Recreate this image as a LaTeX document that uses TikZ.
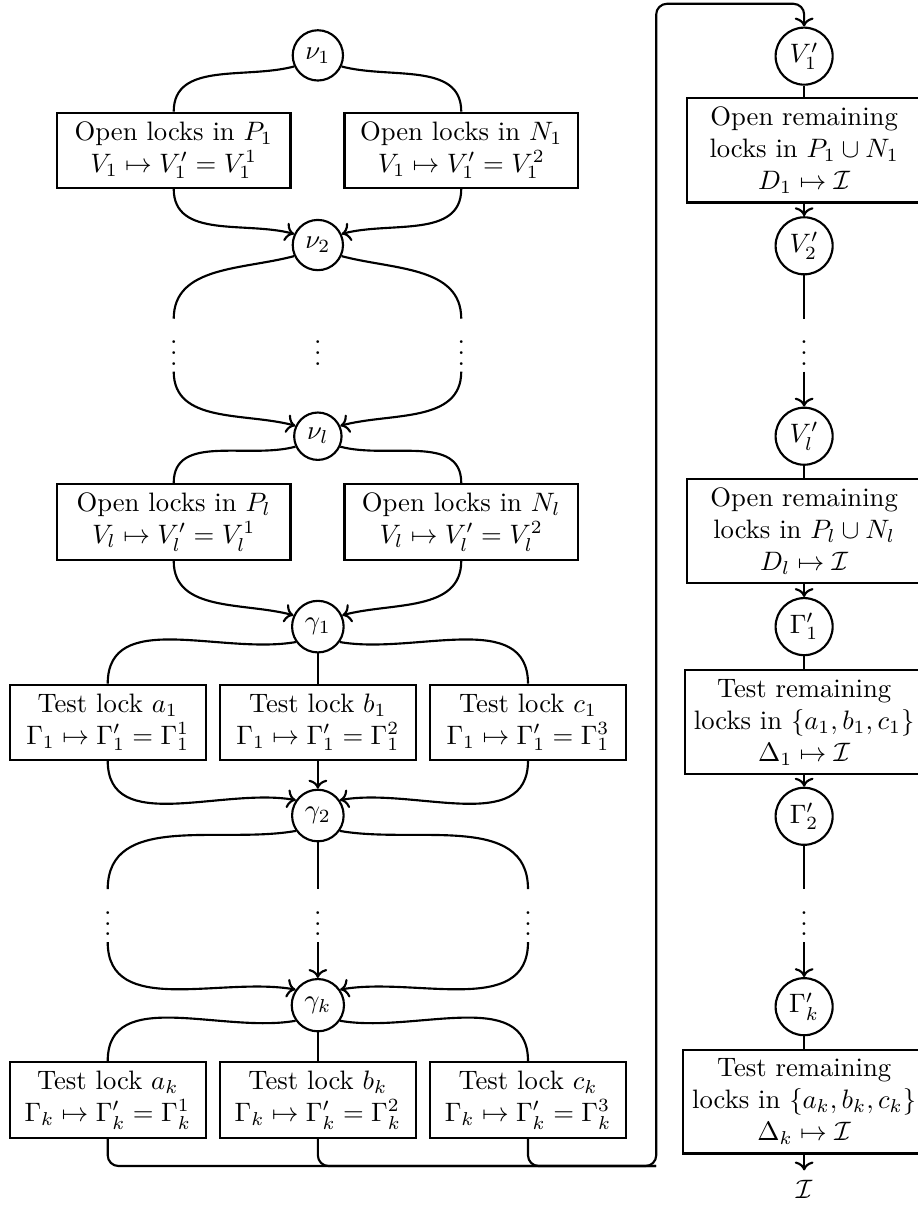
\documentclass[tikz,border=0pt]{standalone}
\usepackage{amsmath,amssymb}
\usetikzlibrary{arrows.meta, positioning, calc}

\begin{document}
\begin{tikzpicture}[thick]
\tikzstyle{state} = [circle, draw, inner sep=2.8pt]
\tikzstyle{rstate} = [circle, draw, inner sep=2pt, minimum size=21.4pt]
\tikzstyle{wide} = [rectangle, draw, align=center, minimum width=87.6pt]
\tikzstyle{narrow} = [rectangle, draw, align=center, minimum width=73.5pt]
\tikzstyle{dots} = [inner sep=2pt]
\useasboundingbox (0,0) rectangle (12.10,-15.95);
% opening the locks
\node[state] (nu1) at (4.19,-0.73) {$\nu_1$};
\node[wide] (p1) at (2.29,-1.98) {Open locks in $P_1$\\ $V_1 \mapsto V_1' = V_1^1$};
\node[wide] (n1) at (6.08,-1.98) {Open locks in $N_1$\\ $V_1 \mapsto V_1' = V_1^2$};
\node[state] (nu2) at (4.19,-3.23) {$\nu_2$};
\node[dots] (d1) at (2.29,-4.55) {$\vdots$};
\node[dots] (d2) at (4.19,-4.55) {$\vdots$};
\node[dots] (d3) at (6.08,-4.55) {$\vdots$};
\node[state] (nul) at (4.19,-5.75) {$\nu_l$};
\node[wide] (pl) at (2.29,-6.88) {Open locks in $P_l$\\ $V_l \mapsto V_l' = V_l^1$};
\node[wide] (nl) at (6.08,-6.88) {Open locks in $N_l$\\ $V_l \mapsto V_l' = V_l^2$};
% testing the locks
\node[state] (ga1) at (4.19,-8.26) {$\gamma_1$};
\node[narrow] (a1) at (1.42,-9.52) {Test lock $a_1$\\ $\Gamma_1 \mapsto \Gamma_1' = \Gamma_1^1$};
\node[narrow] (b1) at (4.19,-9.52) {Test lock $b_1$\\ $\Gamma_1 \mapsto \Gamma_1' = \Gamma_1^2$};
\node[narrow] (c1) at (6.96,-9.52) {Test lock $c_1$\\ $\Gamma_1 \mapsto \Gamma_1' = \Gamma_1^3$};
\node[state] (ga2) at (4.19,-10.75) {$\gamma_2$};
\node[dots] (e1) at (1.42,-12.07) {$\vdots$};
\node[dots] (e2) at (4.19,-12.07) {$\vdots$};
\node[dots] (e3) at (6.96,-12.07) {$\vdots$};
\node[state] (gak) at (4.19,-13.25) {$\gamma_k$};
\node[narrow] (ak) at (1.42,-14.50) {Test lock $a_k$\\ $\Gamma_k \mapsto \Gamma_k' = \Gamma_k^1$};
\node[narrow] (bk) at (4.19,-14.50) {Test lock $b_k$\\ $\Gamma_k \mapsto \Gamma_k' = \Gamma_k^2$};
\node[narrow] (ck) at (6.96,-14.50) {Test lock $c_k$\\ $\Gamma_k \mapsto \Gamma_k' = \Gamma_k^3$};
% remaining locks
\node[rstate] (v1) at (10.60,-0.74) {$V_1'$};
\node[wide] (r1) at (10.60,-1.98) {Open remaining\\ locks in $P_1 \cup N_1$\\ $D_1 \mapsto \mathcal{I}$};
\node[rstate] (v2) at (10.60,-3.24) {$V_2'$};
\node[dots] (d4) at (10.60,-4.55) {$\vdots$};
\node[rstate] (vl) at (10.60,-5.75) {$V_l'$};
\node[wide] (rl) at (10.60,-7.00) {Open remaining\\ locks in $P_l \cup N_l$\\ $D_l \mapsto \mathcal{I}$};
\node[rstate] (g1) at (10.60,-8.26) {$\Gamma_1'$};
\node[wide] (t1) at (10.60,-9.52) {Test remaining\\ locks in $\{a_1, b_1, c_1\}$\\ $\Delta_1 \mapsto \mathcal{I}$};
\node[rstate] (g2) at (10.60,-10.76) {$\Gamma_2'$};
\node[dots] (d5) at (10.60,-12.07) {$\vdots$};
\node[rstate] (gk) at (10.60,-13.27) {$\Gamma_k'$};
\node[wide] (tk) at (10.60,-14.52) {Test remaining\\ locks in $\{a_k, b_k, c_k\}$\\ $\Delta_k \mapsto \mathcal{I}$};
\node (fin) at (10.60,-15.68) {$\mathcal{I}$};
\coordinate (lo) at (8.65,-15.37);
\coordinate (hi) at (8.65,-0.05);
% two-way branches
\foreach \s/\l/\r in {nu1/p1/n1, nu2/d1/d3, nul/pl/nl} {
    \draw (\s.205) to[out=195, in=90] (\l.north);
    \draw (\s.-25) to[out=-15, in=90] (\r.north);
}
\foreach \l/\r/\t in {p1/n1/nu2, d1/d3/nul, pl/nl/ga1} {
    \draw[->] (\l.south) to[out=-90, in=165] (\t.155);
    \draw[->] (\r.south) to[out=-90, in=15] (\t.25);
}
% three-way branches
\foreach \s/\l/\m/\r in {ga1/a1/b1/c1, ga2/e1/e2/e3, gak/ak/bk/ck} {
    \draw (\s.215) to[out=190, in=90] (\l.north);
    \draw (\s.south) -- (\m.north);
    \draw (\s.-35) to[out=-10, in=90] (\r.north);
}
\foreach \l/\m/\r/\t in {a1/b1/c1/ga2, e1/e2/e3/gak} {
    \draw[->] (\l.south) to[out=-90, in=170] (\t.145);
    \draw[->] (\m.south) -- (\t.north);
    \draw[->] (\r.south) to[out=-90, in=10] (\t.35);
}
% right column
\foreach \a/\b in {v1/r1, v2/d4, vl/rl, g1/t1, g2/d5, gk/tk}
    \draw (\a) -- (\b);
\foreach \a/\b in {r1/v2, d4/vl, rl/g1, t1/g2, d5/gk, tk/fin}
    \draw[->] (\a) -- (\b);
% back to the top
\draw[->, rounded corners] (ak.south) |- (lo) -- (hi) -| (v1.north);
\draw[rounded corners] (bk.south) |- (lo);
\draw[rounded corners] (ck.south) |- (lo);
\end{tikzpicture}
\end{document}
